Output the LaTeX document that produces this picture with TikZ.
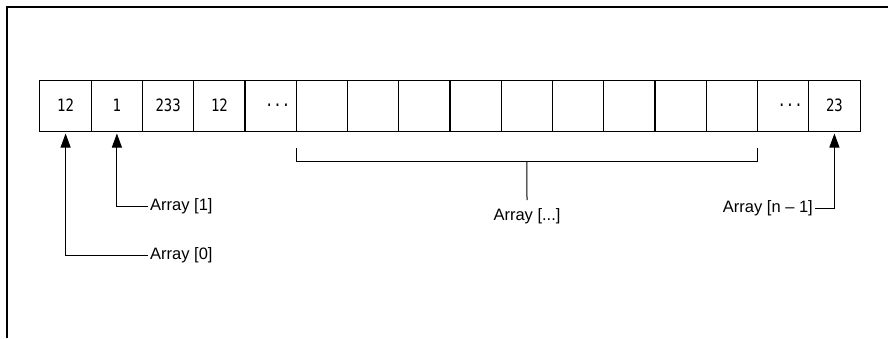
\documentclass[tikz,border=0pt]{standalone}
\usepackage{fontspec}
\setmainfont{Liberation Sans}
\setmonofont[FakeStretch=0.82]{DejaVu Sans Mono}
\usetikzlibrary{arrows.meta}

\begin{document}
\begin{tikzpicture}[x=1pt,y=-1pt,
    cell/.style={draw,line width=1pt,minimum width=51.25pt,minimum height=51pt,
      inner sep=0pt,outer sep=0pt,font=\fontsize{17}{18}\selectfont\ttfamily},
    arrlabel/.style={inner sep=2pt,font=\fontsize{16.5}{18}\selectfont},
    pointer/.style={line width=1pt,-{Triangle[length=14pt,width=10pt]},shorten >=2.5pt}]

      \useasboundingbox (0,0) rectangle (888,338);
      \draw[line width=2pt] (7,338) -- (7,7) -- (888,7);

      \begin{scope}[every node/.style={cell}]
        \node (c1)  at (65.6,105.5)  {12};
        \node (c2)  at (116.9,105.5) {1};
        \node (c3)  at (168.1,105.5) {233};
        \node (c4)  at (219.4,105.5) {12};
        \node (c5)  at (270.6,105.5) {\hspace{14pt}...};
        \node (c6)  at (321.9,105.5) {};
        \node (c7)  at (373.1,105.5) {};
        \node (c8)  at (424.4,105.5) {};
        \node (c9)  at (475.6,105.5) {};
        \node (c10) at (526.9,105.5) {};
        \node (c11) at (578.1,105.5) {};
        \node (c12) at (629.4,105.5) {};
        \node (c13) at (680.6,105.5) {};
        \node (c14) at (731.9,105.5) {};
        \node (c15) at (783.1,105.5) {\hspace{14pt}...};
        \node (c16) at (834.4,105.5) {23};
      \end{scope}

      \begin{scope}[every node/.style={arrlabel}]
        \node[anchor=west] (a1)   at (148,206) {Array [1]};
        \node[anchor=west] (a0)   at (148,255) {Array [0]};
        \node[anchor=east] (alast) at (815,208) {Array [n -- 1]};
        \node (amid) at (527,216) {Array [...]};
      \end{scope}

      % pointers
      \draw[pointer] (a1.west) -| (c2.south);
      \draw[pointer] (a0.west) -| (c1.south);
      \draw[pointer] (alast.east) -| (c16.south);

      % bracket below the unnamed cells
      \coordinate (bl) at ([yshift=-17pt]c6.south west);
      \coordinate (br) at ([yshift=-17pt]c14.south east);
      \coordinate (bm) at ([yshift=-30pt]c10.south);
      \draw[line width=1pt] (bl) -- (bl |- bm) -- (br |- bm) -- (br);
      \draw[line width=1pt] (bm) -- ([yshift=6pt]amid.north);

    \end{tikzpicture}
\end{document}
